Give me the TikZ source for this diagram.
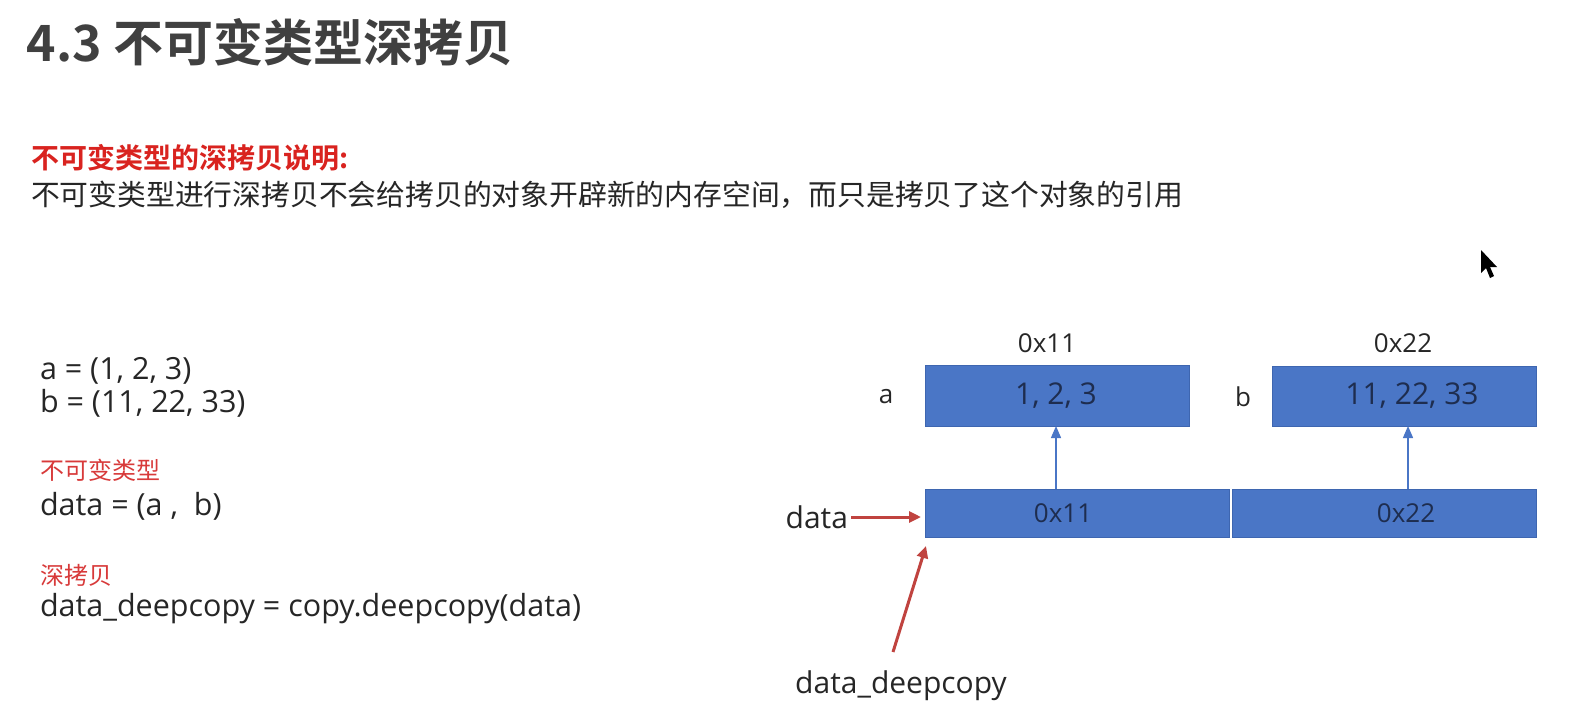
\documentclass[tikz,border=0pt]{standalone}
\usepackage{fontspec}
\usetikzlibrary{arrows.meta}
\setmainfont{Open Sans}
\newfontfamily\cjk{Noto Sans CJK SC}
\newfontfamily\cjkbold{Noto Sans CJK SC Bold}
\definecolor{ink}{HTML}{262626}
\definecolor{titlegray}{HTML}{404040}
\definecolor{hired}{HTML}{D9231F}
\definecolor{codered}{HTML}{D83A3A}
\definecolor{cellblue}{HTML}{4A76C6}
\definecolor{cellline}{HTML}{3E66B0}
\definecolor{celltext}{HTML}{1E2D4F}
\definecolor{arrowred}{HTML}{C0433F}
\begin{document}
\begin{tikzpicture}[x=1pt,y=-1pt,
  every node/.style={inner sep=0pt,outer sep=0pt,text=ink},
  codeline/.style={anchor=west,font=\fontsize{30.5}{34}\selectfont},
  codehead/.style={anchor=west,text=codered,font=\cjk\fontsize{24}{28}\selectfont},
  cell/.style={draw=cellline,fill=cellblue,line width=0.8pt},
  celllabel/.style={text=celltext,font=\fontsize{30}{34}\selectfont},
  addr/.style={font=\fontsize{26}{30}\selectfont},
  ptr/.style={draw=cellblue,line width=1.4pt,-{Triangle[width=10pt,length=12pt]}},
  redptr/.style={draw=arrowred,line width=3pt,-{Triangle[width=11pt,length=12pt]}}]
\useasboundingbox (0,0) rectangle (1574,718);
\fill[white] (0,0) rectangle (1574,718);

% title and explanation
\node[anchor=west,text=titlegray,font=\cjkbold\fontsize{50}{58}\selectfont] (title) at (27,42) {4.3 不可变类型深拷贝};
\node[anchor=west,text=hired,font=\cjkbold\fontsize{28}{32}\selectfont] (note) at (31,158) {不可变类型的深拷贝说明:};
\node[anchor=west,font=\cjk\fontsize{28.8}{32}\selectfont] (explain) at (31,195) {不可变类型进行深拷贝不会给拷贝的对象开辟新的内存空间，而只是拷贝了这个对象的引用};

% code on the left
\node[codeline] (la) at (40,371) {a = (1, 2, 3)};
\node[codeline] (lb) at (40,403) {b = (11, 22, 33)};
\node[codehead] (limm) at (40,470) {不可变类型};
\node[codeline] (ldata) at (40,506) {data = (a ,\ \ b)};
\node[codehead] (ldeep) at (40,575) {深拷贝};
\node[codeline] (lcopy) at (40,609) {data\_deepcopy = copy.deepcopy(data)};

% tuple objects a and b
\path[cell] (925,365) rectangle (1189,426);
\path[cell] (1272,366) rectangle (1536,426);
\node[celllabel] (vala) at (1056,396) {1, 2, 3};
\node[celllabel] (valb) at (1412,396) {11, 22, 33};
\coordinate (abot) at (1056,426);
\coordinate (bbot) at (1408,426);
\node[addr] (adra) at (1047,343) {0x11};
\node[addr] (adrb) at (1403,343) {0x22};
\node[addr] (namea) at (886,397) {a};
\node[addr] (nameb) at (1243,397) {b};

% the tuple data holding two references
\path[cell] (925,489) rectangle (1229,537);
\path[cell] (1232,489) rectangle (1536,537);
\node[addr,text=celltext] (ref1) at (1063,513) {0x11};
\node[addr,text=celltext] (ref2) at (1406,513) {0x22};
\coordinate (ref1top) at (1056,489);
\coordinate (ref2top) at (1408,489);
\draw[ptr] (ref1top) -- (abot);
\draw[ptr] (ref2top) -- (bbot);

% names pointing at data
\node[anchor=east,font=\fontsize{30}{34}\selectfont] (dname) at (848,517) {data};
\coordinate (dleft) at (921,517);
\draw[redptr] (dname.east) ++(3,0) -- (dleft);
\node[font=\fontsize{30}{34}\selectfont] (dcname) at (901,686) {data\_deepcopy};
\coordinate (dctail) at (893,652);
\coordinate (dchead) at (926,546);
\draw[redptr] (dctail) -- (dchead);

% mouse pointer
\fill[black] (1481,250) -- (1481,273) -- (1486,268) -- (1490,278) -- (1494,276) -- (1490,267) -- (1497,267) -- cycle;
\end{tikzpicture}
\end{document}
